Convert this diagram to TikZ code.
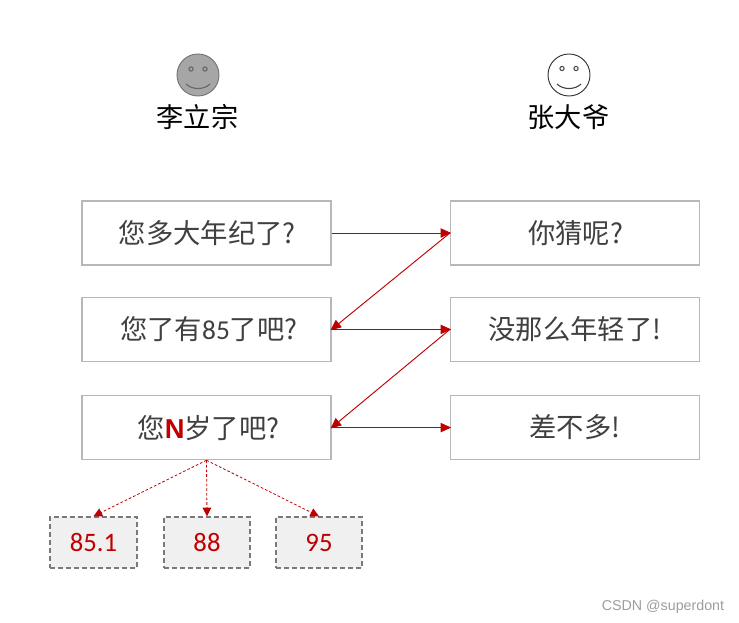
\documentclass[tikz,border=0pt]{standalone}
\usepackage{fontspec}
\setmainfont{Noto Sans CJK SC}
\newfontfamily\latinfont{Carlito}
\newfontfamily\boldfont{Liberation Sans}
\usetikzlibrary{arrows.meta}
\definecolor{txt}{HTML}{404040}
\definecolor{red1}{HTML}{C00000}
\definecolor{boxline}{HTML}{B8B8B8}
\tikzset{
  x=0.75pt,y=-0.75pt,
  talk/.style={draw=boxline,line width=0.95pt,minimum width=186.7pt,minimum height=48pt,inner sep=0pt,text=txt,font=\fontsize{20.5}{24}\selectfont},
  val/.style={draw=gray!95!black,dashed,dash pattern=on 3.6pt off 2.4pt,line width=1.1pt,fill=black!6,minimum height=38.2pt,inner sep=0pt,text=red1,font=\latinfont\fontsize{20}{24}\selectfont},
  who/.style={inner sep=0pt,text=black,font=\fontsize{20.4}{24}\selectfont},
  conn/.style={draw=red1,line width=0.7pt,-{Triangle[length=8pt,width=7pt,fill=red1]},shorten >=-1pt},
  dconn/.style={draw=red1,line width=0.6pt,dashed,dash pattern=on 2pt off 1.5pt,-{Triangle[length=6.5pt,width=6.5pt,fill=red1]}},
  face/.style={circle,minimum size=31.5pt,inner sep=0pt,line width=0.7pt},
  eye/.style={circle,minimum size=3.2pt,inner sep=0pt,line width=0.8pt}
}
\begin{document}
\begin{tikzpicture}
\useasboundingbox (0,0) rectangle (739,623);
\fill[white] (0,0) rectangle (739,623);

\node[face,draw=gray!90!black,fill=black!35] (f1) at (198,75) {};
\node[eye,draw=gray!80!black,fill=black!35] (f1l) at (191,69) {};
\node[eye,draw=gray!80!black,fill=black!35] (f1r) at (205,69) {};
\draw[gray!80!black,line width=0.8pt] (186,84) .. controls (192,90) and (204,90) .. (210,84);
\node[who] (n1) at (197.5,117) {李立宗};

\node[face,draw=black!80,fill=white] (f2) at (569,75) {};
\node[eye,draw=black!70,fill=white] (f2l) at (562,68.5) {};
\node[eye,draw=black!70,fill=white] (f2r) at (576,68.5) {};
\draw[black!75,line width=0.8pt] (557,84) .. controls (563,90) and (575,90) .. (581,84);
\node[who] (n2) at (568.5,117) {张大爷};

\node[talk] (a1) at (206.5,233) {\raisebox{1pt}{\hspace{1.2pt}您多大年纪了?}};
\node[talk] (a2) at (206.5,329.4) {\hspace{3.5pt}您了有{\latinfont 85}了吧?};
\node[talk] (a3) at (206.5,427.6) {\raisebox{1pt}{\hspace{3pt}您{\boldfont\bfseries\color{red1}N}岁了吧?}};
\node[talk] (b1) at (575,233) {\raisebox{1pt}{\hspace{1pt}你猜呢?}};
\node[talk] (b2) at (575,329.4) {没那么年轻了!};
\node[talk] (b3) at (575,427.6) {\raisebox{1pt}{差不多!}};

\node[val,minimum width=65.2pt] (v1) at (93.5,542.5) {85.1};
\node[val,minimum width=64.5pt] (v2) at (207,542.5) {88};
\node[val,minimum width=64.5pt] (v3) at (319,542.5) {95};

\draw[conn] (a1.east) -- (b1.west);
\draw[conn] (b1.west) -- (a2.east);
\draw[conn] (a2.east) -- (b2.west);
\draw[conn] (b2.west) -- (a3.east);
\draw[conn] (a3.east) -- (b3.west);

\draw[dconn] (a3.south) -- (v1.north);
\draw[dconn] (a3.south) -- (v2.north);
\draw[dconn] (a3.south) -- (v3.north);

\node[text=black!38,inner sep=0pt,font=\boldfont\fontsize{10.7}{13}\selectfont] (wm) at (663,606.5) {CSDN @superdont};
\end{tikzpicture}
\end{document}
